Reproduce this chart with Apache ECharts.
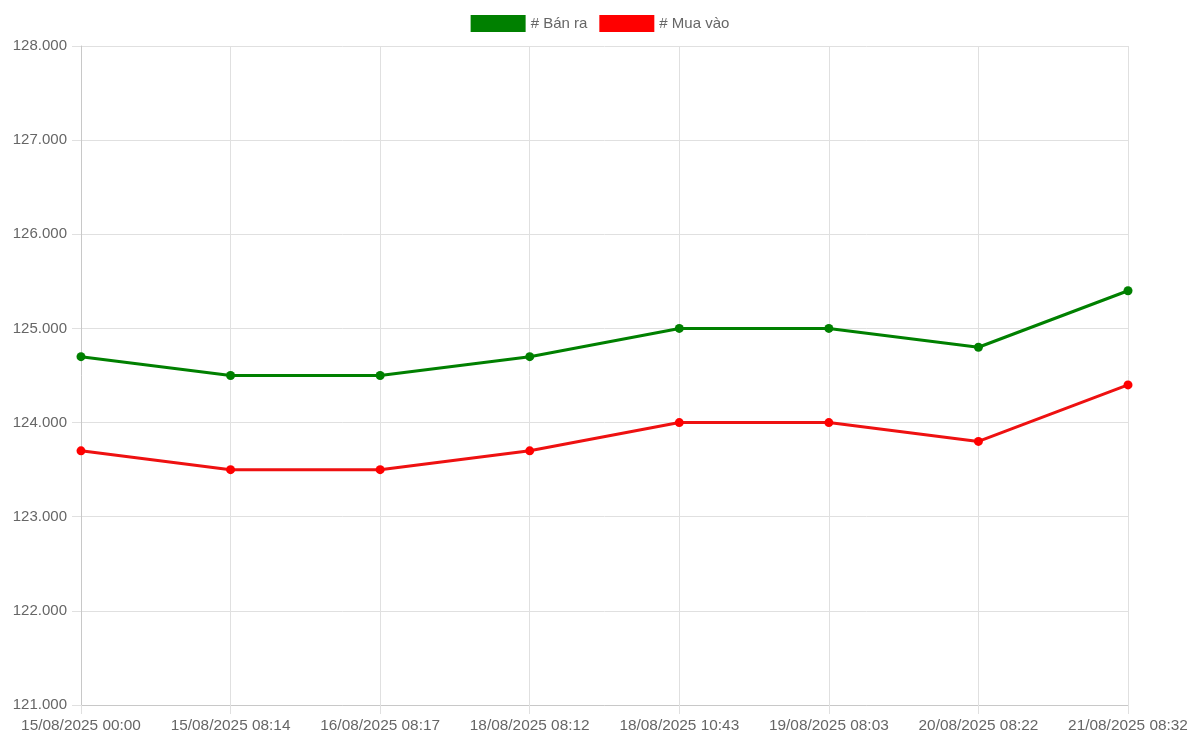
<!DOCTYPE html>
<html>
<head>
<meta charset="utf-8">
<script src="https://cdn.jsdelivr.net/npm/echarts@6/dist/echarts.min.js"></script>
<style>
html,body{margin:0;padding:0;background:#fff;}
#chart{width:1200px;height:748px;}
</style>
</head>
<body>
<div id="chart"></div>
<script>
const categories = ["15/08/2025 00:00","15/08/2025 08:14","16/08/2025 08:17","18/08/2025 08:12","18/08/2025 10:43","19/08/2025 08:03","20/08/2025 08:22","21/08/2025 08:32"];
const banRa = [124700,124500,124500,124700,125000,125000,124800,125400];
const muaVao = [123700,123500,123500,123700,124000,124000,123800,124400];
const seriesNames = ["# Bán ra", "# Mua vào"];

function fmt(v){ return String(Math.round(v)).replace(/\B(?=(\d{3})+(?!\d))/g, "."); }

const chart = echarts.init(document.getElementById('chart'));
const font = "'Liberation Sans', Arial, sans-serif";
chart.setOption({
  animation: false,
  textStyle: { fontFamily: font },
  legend: {
    top: 10,
    left: 'center',
    icon: 'rect',
    itemWidth: 55,
    itemHeight: 17,
    itemGap: 12,
    textStyle: { color: '#666', fontSize: 15, fontFamily: font },
    data: seriesNames
  },
  grid: { left: 81, right: 72, top: 46, bottom: 43, containLabel: false },
  xAxis: {
    type: 'category',
    boundaryGap: false,
    data: categories,
    axisLine: { lineStyle: { color: '#c8c8c8', width: 1 } },
    axisTick: { show: true, length: 9, alignWithLabel: true, lineStyle: { color: '#e0e0e0' } },
    splitLine: { show: true, lineStyle: { color: '#e0e0e0' } },
    axisLabel: { color: '#666', fontSize: 15.4, margin: 13, fontFamily: font, interval: 0 }
  },
  yAxis: {
    type: 'value',
    min: 121000,
    max: 128000,
    interval: 1000,
    axisLine: { show: true, lineStyle: { color: '#c8c8c8', width: 1 } },
    axisTick: { show: true, length: 9, lineStyle: { color: '#e0e0e0' } },
    splitLine: { show: true, lineStyle: { color: '#e0e0e0' } },
    axisLabel: { color: '#666', fontSize: 15, margin: 14, fontFamily: font, formatter: fmt }
  },
  series: [
    {
      name: seriesNames[0], type: 'line', data: banRa,
      symbol: 'circle', symbolSize: 9,
      itemStyle: { color: '#008000' },
      lineStyle: { color: '#008000', width: 3 }
    },
    {
      name: seriesNames[1], type: 'line', data: muaVao,
      symbol: 'circle', symbolSize: 9,
      itemStyle: { color: '#ff0000' },
      lineStyle: { color: '#ee1111', width: 3 }
    }
  ]
});
</script>
</body>
</html>
